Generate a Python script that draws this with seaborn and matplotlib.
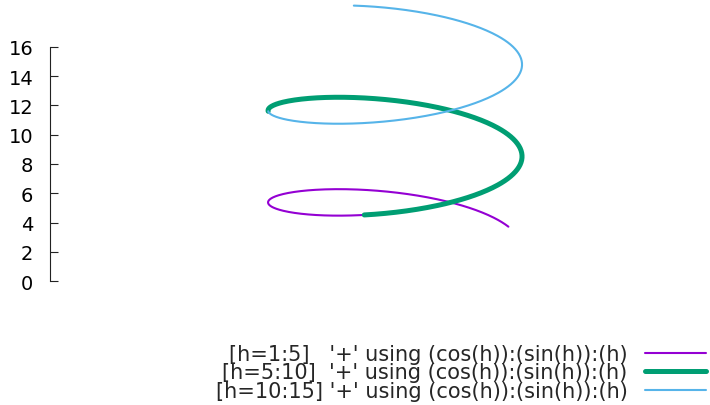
import numpy as np
import pandas as pd
import matplotlib
matplotlib.use("Agg")
import matplotlib.pyplot as plt
import seaborn as sns

# parametric ranges of h for each splot segment
h_ranges = [(1, 5), (5, 10), (10, 15)]
titles = ["[h=1:5]   '+' using (cos(h)):(sin(h)):(h)",
          "[h=5:10]  '+' using (cos(h)):(sin(h)):(h)",
          "[h=10:15] '+' using (cos(h)):(sin(h)):(h)"]
colors = ["#9400D3", "#009E73", "#56B4E9"]
widths = [1.5, 3.6, 1.5]
z_ticks = [0, 2, 4, 6, 8, 10, 12, 14, 16]

# view: rotation around z (~30 deg), flattened depth, base offset
rot_z = np.radians(30.5)
depth = 2.25
base = 1.7

rows = []
for (lo, hi), t in zip(h_ranges, titles):
    h = np.linspace(lo, hi, 300)
    x, y, z = np.cos(h), np.sin(h), h
    # rotate about z, project orthographically (view nearly side-on)
    sx = x * np.cos(rot_z) + y * np.sin(rot_z)
    sy = z + base + depth * (-x * np.sin(rot_z) + y * np.cos(rot_z))
    rows.append(pd.DataFrame({"sx": sx, "sy": sy, "series": t}))
df = pd.concat(rows, ignore_index=True)

sns.set_style("white")
plt.rcParams["font.family"] = ["DejaVu Sans"]
fig = plt.figure(figsize=(7.1, 4.06), dpi=100)
ax = fig.add_axes([50 / 710, 106 / 406, 660 / 710, 300 / 406])

for t, c, lw in zip(titles, colors, widths):
    sns.lineplot(data=df[df.series == t], x="sx", y="sy", sort=False, estimator=None,
                 color=c, linewidth=lw, label=t, ax=ax)

ax.set_xlim(-2.717, 2.480)
ax.set_ylim(-1.23, 19.28)
ax.set_xticks([])
ax.set_yticks(z_ticks)
ax.set_xlabel("")
ax.set_ylabel("")
for s in ["top", "right", "bottom"]:
    ax.spines[s].set_visible(False)
ax.spines["left"].set_bounds(0, 16)
ax.spines["left"].set_color("#222222")
ax.spines["left"].set_linewidth(0.8)
ax.tick_params(axis="y", left=True, direction="in", length=5.8, width=0.8, pad=12,
               labelsize=14, colors="#222222", labelcolor="black")

# markerfirst=False right-aligns the rows, so texts end against the samples
leg = ax.legend(loc="lower right", bbox_to_anchor=(1.0, 0.0),
                bbox_transform=fig.transFigure, frameon=False, fontsize=15,
                markerfirst=False, handlelength=2.9, handletextpad=0.85,
                labelspacing=-0.08, borderpad=0.1, borderaxespad=0.1)

fig.savefig("out.png", dpi=100)
